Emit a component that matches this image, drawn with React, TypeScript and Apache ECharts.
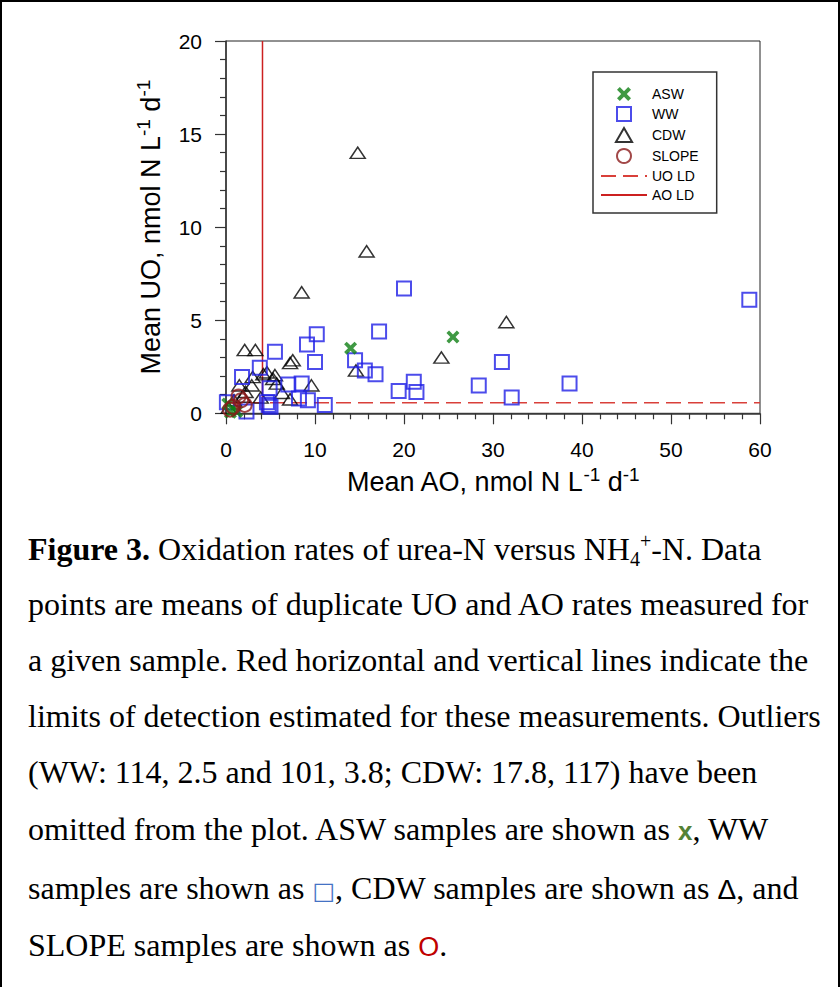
import React, { useEffect, useRef } from 'react';
import * as echarts from 'echarts';

// Mean AO (x) vs Mean UO (y), nmol N L-1 d-1
const aswPoints: number[][] = [
  [14.0, 3.5], [25.5, 4.1], [0.2, 0.5], [0.5, 0.05], [1.2, 0.1],
];
const wwPoints: number[][] = [
  [20.0, 6.7], [58.8, 6.1], [17.2, 4.4], [10.2, 4.25], [9.1, 3.7], [5.5, 3.3],
  [10.0, 2.75], [14.5, 2.85], [31.0, 2.75], [15.6, 2.3], [16.8, 2.1], [3.8, 2.45],
  [1.8, 1.95], [21.1, 1.7], [21.4, 1.15], [19.4, 1.2], [28.4, 1.5], [38.6, 1.6],
  [32.1, 0.85], [7.0, 1.55], [8.5, 1.6], [4.9, 1.35], [8.2, 0.8], [9.2, 0.7],
  [11.1, 0.45], [4.8, 0.45], [5.0, 0.35], [0.1, 0.6], [2.3, 0.1], [4.6, 0.6],
];
const cdwPoints: number[][] = [
  [14.8, 14.0], [15.8, 8.7], [8.5, 6.5], [31.5, 4.9], [24.2, 3.0], [14.6, 2.3],
  [2.1, 3.4], [3.3, 3.4], [7.2, 2.7], [7.5, 2.85], [9.6, 1.5], [4.6, 2.2],
  [5.5, 2.05], [5.3, 1.85], [5.7, 1.6], [3.0, 1.95], [1.5, 1.5], [2.9, 1.5],
  [6.3, 1.1], [7.2, 0.75], [3.9, 0.85], [2.2, 1.15], [1.9, 0.9], [0.9, 0.7],
  [0.3, 0.3], [4.2, 2.1],
];
const slopePoints: number[][] = [
  [1.4, 0.9], [2.1, 0.45], [0.45, 0.2], [0.8, 0.35], [1.7, 0.7],
];
// Limits of detection
const uoLD = 0.57;
const aoLD = 4.1;
const xRange = [0, 60];
const yRange = [0, 20];

const legendNames = ['ASW', 'WW', 'CDW', 'SLOPE', 'UO LD', 'AO LD'];

const captionLines: { center: number; content: React.ReactNode }[] = [
  {
    center: 549,
    content: (
      <>
        <b>Figure 3.</b> Oxidation rates of urea-N versus NH
        <span style={{ fontSize: 20, verticalAlign: '-6px', lineHeight: 0 }}>4</span>
        <span style={{ fontSize: 20, verticalAlign: '12px', lineHeight: 0 }}>+</span>-N. Data
      </>
    ),
  },
  { center: 604, content: 'points are means of duplicate UO and AO rates measured for' },
  { center: 660, content: 'a given sample. Red horizontal and vertical lines indicate the' },
  { center: 716, content: 'limits of detection estimated for these measurements. Outliers' },
  { center: 772, content: '(WW: 114, 2.5 and 101, 3.8; CDW: 17.8, 117) have been' },
  {
    center: 829,
    content: (
      <>
        omitted from the plot. ASW samples are shown as{' '}
        <span style={{ fontFamily: 'Liberation Sans', fontWeight: 'bold', color: '#548235', fontSize: 26 }}>x</span>, WW
      </>
    ),
  },
  {
    center: 888,
    content: (
      <>
        samples are shown as{' '}
        <span style={{ fontFamily: 'DejaVu Sans', color: '#4472c4', fontSize: 24 }}>□</span>, CDW samples are shown as{' '}
        <span style={{ fontFamily: 'Liberation Sans', fontSize: 28 }}>Δ</span>, and
      </>
    ),
  },
  {
    center: 945,
    content: (
      <>
        SLOPE samples are shown as{' '}
        <span style={{ fontFamily: 'Liberation Sans', color: '#c00000', fontSize: 27 }}>O</span>.
      </>
    ),
  },
];

const crossPath =
  'path://M0,4 L4,0 L10,6 L16,0 L20,4 L14,10 L20,16 L16,20 L10,14 L4,20 L0,16 L6,10 Z';
const squarePath = 'path://M0,0 L10,0 L10,10 L0,10 Z';
const trianglePath = 'path://M7.5,0 L15,13 L0,13 Z';

export default function App() {
  const ref = useRef<HTMLDivElement>(null);

  useEffect(() => {
    if (!ref.current) return;
    const chart = echarts.init(ref.current, null, { renderer: 'svg' });
    const font = 'Liberation Sans';
    const axisColor = '#333';
    const titleStyle = {
      fontFamily: font,
      fontSize: 27,
      color: '#000',
      lineHeight: 34,
      rich: {
        sup: { fontFamily: font, fontSize: 19, color: '#000', verticalAlign: 'top' },
      },
    };
    chart.setOption({
      animation: false,
      backgroundColor: 'transparent',
      grid: {
        left: 226,
        top: 41,
        width: 534,
        height: 372.3,
        show: true,
        borderColor: '#222',
        borderWidth: 1,
        backgroundColor: 'transparent',
      },
      xAxis: {
        type: 'value',
        min: xRange[0],
        max: xRange[1],
        interval: 10,
        name: 'Mean AO, nmol N L{sup|-1} d{sup|-1}',
        nameLocation: 'middle',
        nameGap: 48,
        nameTextStyle: titleStyle,
        axisLine: { onZero: false, lineStyle: { color: axisColor, width: 1.5 } },
        axisTick: { length: 11, lineStyle: { color: axisColor, width: 1.2 } },
        minorTick: { show: true, splitNumber: 5, length: 6, lineStyle: { color: axisColor, width: 1.2 } },
        splitLine: { show: false },
        minorSplitLine: { show: false },
        axisLabel: { fontFamily: font, fontSize: 21, color: '#000', margin: 26 },
      },
      yAxis: {
        type: 'value',
        min: yRange[0],
        max: yRange[1],
        interval: 5,
        name: 'Mean UO, nmol N L{sup|-1} d{sup|-1}',
        nameLocation: 'middle',
        nameRotate: 90,
        nameGap: 46,
        nameTextStyle: titleStyle,
        axisLine: { onZero: false, lineStyle: { color: axisColor, width: 1.5 } },
        axisTick: { length: 11, lineStyle: { color: axisColor, width: 1.2 } },
        minorTick: { show: true, splitNumber: 5, length: 6, lineStyle: { color: axisColor, width: 1.2 } },
        splitLine: { show: false },
        minorSplitLine: { show: false },
        axisLabel: { fontFamily: font, fontSize: 21, color: '#000', margin: 24 },
      },
      legend: {
        data: legendNames,
        orient: 'vertical',
        left: 593,
        top: 72,
        itemWidth: 46,
        itemHeight: 14,
        itemGap: 5,
        padding: [15, 18, 11, 7],
        symbolKeepAspect: true,
        borderColor: '#333',
        borderWidth: 1.5,
        backgroundColor: '#fff',
        textStyle: { fontFamily: font, fontSize: 14, color: '#000' },
        selectedMode: false,
      },
      series: [
        {
          name: 'UO LD',
          type: 'line',
          data: [[xRange[0], uoLD], [xRange[1], uoLD]],
          symbol: 'none',
          itemStyle: { color: 'rgba(0,0,0,0)', borderWidth: 0 },
          lineStyle: { color: '#d9403a', width: 1.5, type: [15, 7] },
          z: 1,
        },
        {
          name: 'AO LD',
          type: 'line',
          data: [[aoLD, yRange[0]], [aoLD, yRange[1]]],
          symbol: 'none',
          itemStyle: { color: 'rgba(0,0,0,0)', borderWidth: 0 },
          lineStyle: { color: '#cc2020', width: 1.5 },
          z: 1,
        },
        {
          name: 'CDW',
          type: 'scatter',
          data: cdwPoints,
          symbol: trianglePath,
          symbolSize: [15, 13],
          symbolKeepAspect: true,
          itemStyle: { color: 'rgba(0,0,0,0)', borderColor: '#000', borderWidth: 1.5 },
          z: 2,
        },
        {
          name: 'WW',
          type: 'scatter',
          data: wwPoints,
          symbol: squarePath,
          symbolSize: 14,
          symbolKeepAspect: true,
          itemStyle: { color: 'rgba(0,0,0,0)', borderColor: '#1f1fe6', borderWidth: 2 },
          z: 3,
        },
        {
          name: 'ASW',
          type: 'scatter',
          data: aswPoints,
          symbol: crossPath,
          symbolSize: 13,
          symbolKeepAspect: true,
          itemStyle: { color: '#0f7f14' },
          z: 4,
        },
        {
          name: 'SLOPE',
          type: 'scatter',
          data: slopePoints,
          symbol: 'circle',
          symbolSize: 14,
          itemStyle: { color: 'rgba(0,0,0,0)', borderColor: '#8b1a1a', borderWidth: 2 },
          z: 5,
        },
      ],
    });
    return () => chart.dispose();
  }, []);

  return (
    <div
      style={{
        position: 'absolute',
        left: 0,
        top: 0,
        width: 840,
        height: 987,
        background: '#fff',
        overflow: 'hidden',
      }}
    >
      <div
        style={{
          position: 'absolute',
          left: 0,
          top: 0,
          width: 840,
          height: 1000,
          boxSizing: 'border-box',
          borderLeft: '2px solid #000',
          borderTop: '2px solid #000',
          borderRight: '2px solid #000',
        }}
      />
      <div ref={ref} style={{ position: 'absolute', left: 0, top: 0, width: 840, height: 510 }} />
      {captionLines.map((line, i) => (
        <div
          key={i}
          style={{
            position: 'absolute',
            left: 28,
            top: line.center - 20,
            height: 40,
            lineHeight: '40px',
            fontFamily: 'Liberation Serif',
            fontSize: 32,
            color: '#000',
            whiteSpace: 'nowrap',
          }}
        >
          {line.content}
        </div>
      ))}
    </div>
  );
}
